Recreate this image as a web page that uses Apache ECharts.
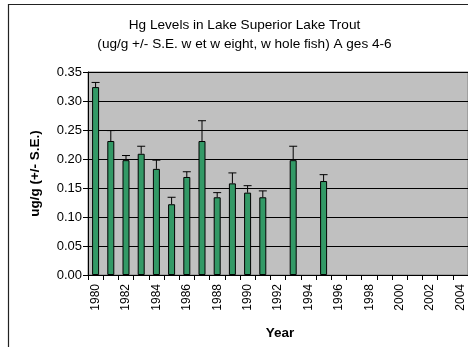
<!DOCTYPE html>
<html>
<head>
<meta charset="utf-8">
<script src="https://cdn.jsdelivr.net/npm/echarts@6/dist/echarts.min.js"></script>
<style>
  html, body { margin: 0; padding: 0; background: #fff; }
  #chart { width: 468px; height: 347px; }
</style>
</head>
<body>
<div id="chart"></div>
<script>
// Sampling years on the category axis
const years = [];
for (let y = 1980; y <= 2004; y++) years.push(String(y));

// Mean Hg concentration (ug/g wet weight), null where no sample was taken
const meanHg = [0.324, 0.231, 0.198, 0.209, 0.183, 0.122, 0.169, 0.231, 0.134, 0.158,
                0.142, 0.134, null, 0.198, null, 0.162, null, null, null, null,
                null, null, null, null, null];

// Standard error of each mean
const stdErr = [0.008, 0.018, 0.008, 0.013, 0.015, 0.012, 0.009, 0.035, 0.008, 0.018,
                0.012, 0.011, null, 0.024, null, 0.011, null, null, null, null,
                null, null, null, null, null];

const yTicks = { min: 0, max: 0.35, interval: 0.05 };

const errData = [];
meanHg.forEach((v, i) => {
  if (v != null) errData.push([i, v, v + stdErr[i]]);
});

const FONT = '"Liberation Sans", Arial, sans-serif';
const chart = echarts.init(document.getElementById('chart'), null, { renderer: 'canvas' });

chart.setOption({
  animation: false,
  backgroundColor: '#ffffff',
  graphic: [
    {
      type: 'rect',
      shape: { x: 8.5, y: 4.5, width: 500, height: 400 },
      style: { fill: 'none', stroke: '#222', lineWidth: 1.2 },
      silent: true
    },
    {
      type: 'text',
      x: 244.5, y: 16,
      style: {
        text: 'Hg Levels in Lake Superior Lake Trout\n(ug/g +/- S.E. w et w eight, w hole fish) A ges 4-6',
        textAlign: 'center',
        fontFamily: FONT,
        fontSize: 13.6,
        lineHeight: 19,
        fill: '#000'
      }
    }
  ],
  grid: {
    left: 88, right: -3, top: 72, bottom: 72,
    show: true,
    backgroundColor: '#c0c0c0',
    borderColor: '#808080',
    borderWidth: 1
  },
  xAxis: {
    type: 'category',
    data: years,
    name: 'Year',
    nameLocation: 'middle',
    nameGap: 51,
    nameTextStyle: { fontFamily: FONT, fontSize: 13.5, fontWeight: 'bold', color: '#000', padding: [0, 0, 0, 4] },
    axisLine: { lineStyle: { color: '#000', width: 1 } },
    axisTick: { show: true, interval: 0, length: 5, alignWithLabel: false, lineStyle: { color: '#000' } },
    axisLabel: {
      interval: 1,
      rotate: 90,
      margin: 9,
      fontFamily: FONT,
      fontSize: 12,
      color: '#000'
    },
    splitLine: { show: false }
  },
  yAxis: {
    type: 'value',
    min: yTicks.min,
    max: yTicks.max,
    interval: yTicks.interval,
    name: 'ug/g (+/- S.E.)',
    nameLocation: 'middle',
    nameGap: 46,
    nameRotate: 90,
    nameTextStyle: { fontFamily: FONT, fontSize: 13.5, fontWeight: 'bold', color: '#000' },
    axisLine: { show: true, lineStyle: { color: '#000', width: 1 } },
    axisTick: { show: true, length: 5, lineStyle: { color: '#000' } },
    axisLabel: {
      margin: 6,
      fontFamily: FONT,
      fontSize: 13,
      color: '#000',
      formatter: v => v.toFixed(2)
    },
    splitLine: { show: true, lineStyle: { color: '#000', width: 1 } }
  },
  series: [
    {
      type: 'bar',
      data: meanHg,
      barWidth: 7,
      itemStyle: { color: '#339966', borderColor: '#000', borderWidth: 1 },
      z: 2
    },
    {
      type: 'custom',
      data: errData,
      z: 3,
      renderItem: function (params, api) {
        const i = api.value(0);
        const top = api.coord([i, api.value(2)]);
        const base = api.coord([i, api.value(1)]);
        const half = 4;
        return {
          type: 'group',
          children: [
            { type: 'line', shape: { x1: top[0], y1: top[1], x2: base[0], y2: base[1] },
              style: { stroke: '#000', lineWidth: 1 } },
            { type: 'line', shape: { x1: top[0] - half, y1: top[1], x2: top[0] + half, y2: top[1] },
              style: { stroke: '#000', lineWidth: 1 } }
          ]
        };
      }
    }
  ]
});
</script>
</body>
</html>
